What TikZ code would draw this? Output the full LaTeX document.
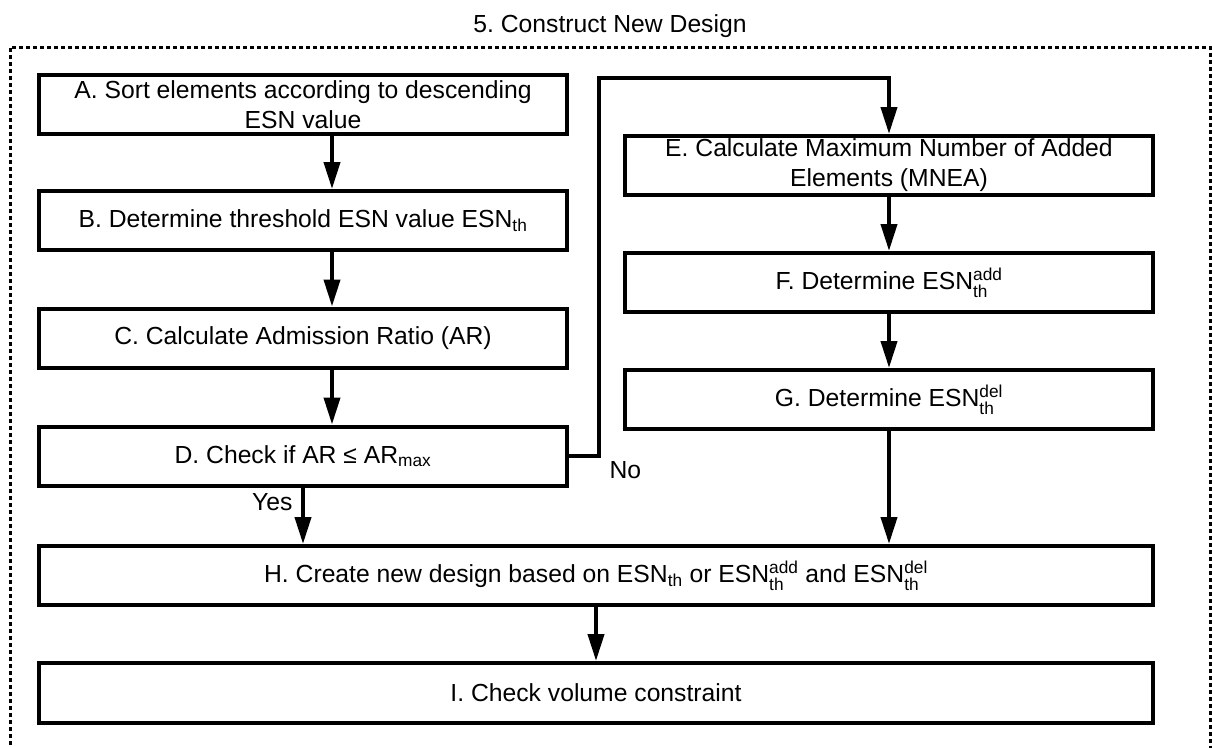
\documentclass[tikz,border=0pt]{standalone}
\usepackage{amsmath}
\usepackage{fontspec}
\setmainfont{Liberation Sans}
\usetikzlibrary{arrows.meta}
\frenchspacing

\begin{document}
\begin{tikzpicture}[x=1pt, y=-1pt,
    every node/.style={font=\fontsize{24.7}{30}\selectfont},
    stepbox/.style={draw, line width=4pt, inner sep=0pt, minimum width=528pt, minimum height=59pt, align=center},
    widebox/.style={stepbox, minimum width=1114pt},
    flow/.style={line width=4pt, -{Triangle[length=27pt, width=16pt]}}]
    \useasboundingbox (0,0) rectangle (1212,747);

    % Dotted frame and its title
    \draw[line width=3pt, dash pattern=on 4pt off 3pt] (10,752) |- (1210,47) -- (1210,752);
    \node[anchor=base] (title) at (610,32) {5. Construct New Design};

    % Left column
    \node[stepbox] (A) at (303,104.5) {A. Sort elements according to descending\\ESN value};
    \node[stepbox] (B) at (303,220.5) {B. Determine threshold ESN value ESN$_\text{th}$};
    \node[stepbox] (C) at (303,338) {C. Calculate Admission Ratio (AR)};
    \node[stepbox] (D) at (303,456) {D. Check if AR ≤ AR$_\text{max}$};

    % Right column
    \node[stepbox] (E) at (889,165.5) {E. Calculate Maximum Number of Added\\Elements (MNEA)};
    \node[stepbox] (F) at (889,282.5) {F. Determine ESN$_\text{th}^\text{add}$};
    \node[stepbox] (G) at (889,399.5) {G. Determine ESN$_\text{th}^\text{del}$};

    % Bottom boxes
    \node[widebox] (H) at (596,575.5) {H. Create new design based on ESN$_\text{th}$ or ESN$_\text{th}^\text{add}$ and ESN$_\text{th}^\text{del}$};
    \node[widebox, minimum height=60pt] (I) at (596,693) {I. Check volume constraint};

    % Arrows
    \draw[flow] ([xshift=29pt]A.south) -- ([xshift=29pt]B.north);
    \draw[flow] ([xshift=29pt]B.south) -- ([xshift=29pt]C.north);
    \draw[flow] ([xshift=29pt]C.south) -- ([xshift=29pt]D.north);
    \draw[flow] (E.south) -- (F.north);
    \draw[flow] (F.south) -- (G.north);
    \draw[flow] (D.south) -- (D.south |- H.north);
    \draw[flow] (G.south) -- (G.south |- H.north);
    \draw[flow] (H.south) -- (I.north);

    % No branch
    \coordinate (nocorner) at (599,78);
    \draw[flow] (D.east) -| (nocorner) -| (E.north);

    % Labels
    \node[anchor=base east] (yes) at (296,510) {Yes};
    \node[anchor=base west] (no) at (606,478) {No};
\end{tikzpicture}
\end{document}
